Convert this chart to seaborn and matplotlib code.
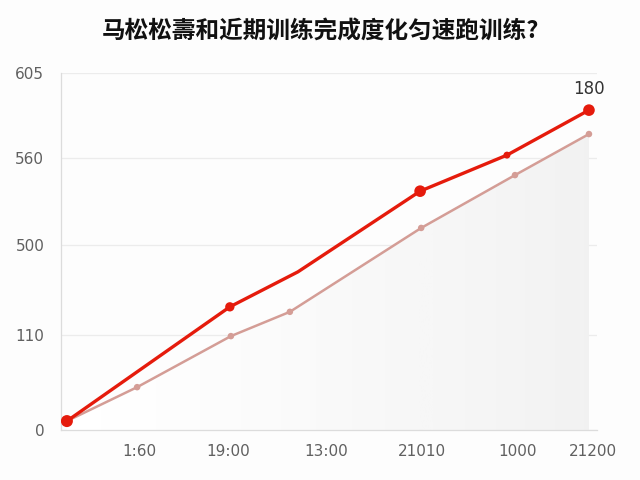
import numpy as np
import pandas as pd
import matplotlib
matplotlib.use("Agg")
import matplotlib.pyplot as plt
import seaborn as sns

# Chart data (axis units 0-100)
red_x = [1.1, 31.5, 44.2, 67.0, 83.2, 98.5]
red_y = [2.5, 34.5, 44.3, 66.9, 77.0, 89.6]
red_marker_size = [75, 45, 0, 70, 25, 70]

pink_x = [1.1, 14.2, 31.7, 42.7, 67.2, 84.7, 98.5]
pink_y = [2.5, 12.0, 26.3, 33.1, 56.6, 71.4, 82.9]

y_tick_pos = [0, 26.6, 51.8, 76.2, 100]
y_tick_labels = ["0", "110", "500", "560", "605"]
x_tick_pos = [14.6, 31.2, 49.4, 67.4, 85.1, 99.2]
x_tick_labels = ["1:60", "19:00", "13:00", "21010", "1000", "21200"]

end_label = "180"
title = "马松松壽和近期训练完成度化匀速跑训练?"

sns.set_theme(style="white")
plt.rcParams["font.family"] = ["DejaVu Sans"]

red_df = pd.DataFrame({"x": red_x, "y": red_y, "s": red_marker_size})
pink_df = pd.DataFrame({"x": pink_x, "y": pink_y})

fig = plt.figure(figsize=(6.4, 4.8), dpi=100)
fig.patch.set_facecolor("#fdfdfd")
ax = fig.add_axes([61 / 640, 50 / 480, 536 / 640, 357 / 480])
ax.set_facecolor("#fdfdfd")

# grey gradient fill under the lower line
poly = ax.fill_between(pink_df["x"], pink_df["y"], 0, color="none")
grad = np.linspace(0, 1, 256).reshape(1, -1) ** 1.3
img = ax.imshow(grad, extent=[0, 99, 0, 100], aspect="auto", cmap="Greys",
                vmin=0, vmax=9, origin="lower", zorder=1)
img.set_clip_path(poly.get_paths()[0], transform=ax.transData)

sns.lineplot(data=pink_df, x="x", y="y", color="#d49d96", linewidth=1.8,
             ax=ax, zorder=3)
sns.scatterplot(data=pink_df, x="x", y="y", color="#d49d96", s=22,
                edgecolor="none", ax=ax, zorder=4)
sns.lineplot(data=red_df, x="x", y="y", color="#e51b0c", linewidth=2.4,
             ax=ax, zorder=5)
sns.scatterplot(data=red_df, x="x", y="y", size="s", sizes=(0, 75),
                color="#e51b0c", edgecolor="none", legend=False, ax=ax,
                zorder=6)

ax.annotate(end_label, (red_x[-1], red_y[-1]), xytext=(0, 9),
            textcoords="offset points", ha="center", va="bottom",
            fontsize=12, color="#333333")

ax.set_xlim(0, 100)
ax.set_ylim(0, 100)
ax.set_yticks(y_tick_pos)
ax.set_yticklabels(y_tick_labels)
ax.set_xticks(x_tick_pos)
ax.set_xticklabels(x_tick_labels)
ax.tick_params(axis="both", length=0, labelsize=11, labelcolor="#606060")
ax.tick_params(axis="x", pad=10)
ax.tick_params(axis="y", pad=12)
ax.set_xlabel("")
ax.set_ylabel("")
ax.grid(axis="y", color="#ececec", linewidth=0.9)
ax.set_axisbelow(True)
for side in ["top", "right"]:
    ax.spines[side].set_visible(False)
for side in ["left", "bottom"]:
    ax.spines[side].set_color("#dcdcdc")
    ax.spines[side].set_linewidth(0.9)

fig.text(0.5, 0.935, title, ha="center", va="center", fontsize=17,
         fontweight="bold", family=["Noto Sans CJK SC", "DejaVu Sans"],
         color="#111111")

fig.savefig("out.png", dpi=100, facecolor=fig.get_facecolor())
